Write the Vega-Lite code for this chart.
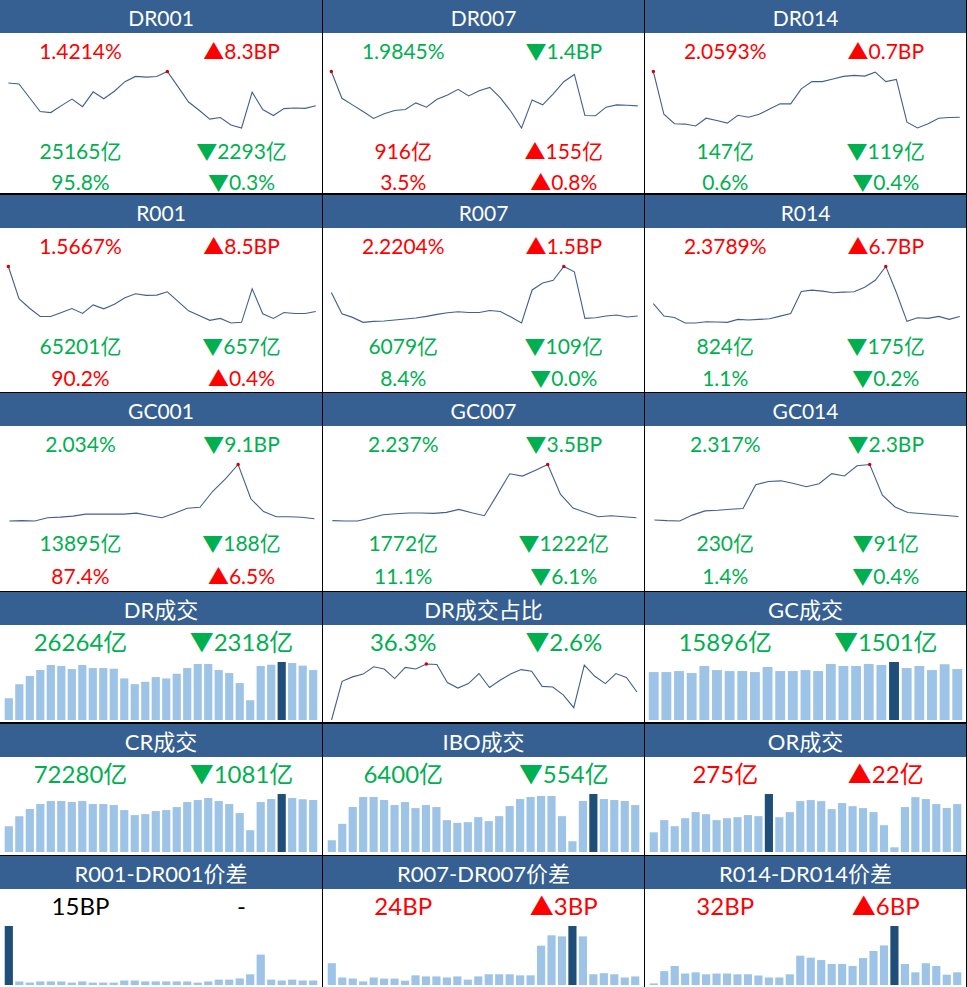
{
"$schema":"https://vega.github.io/schema/vega-lite/v6.json",
"padding":{"left":0,"top":0,"right":1,"bottom":1},
"background":"#000000",
"spacing":1,
"config":{"view":{"stroke":null,"fill":"#FFFFFF"},"text":{"font":"Lato, 'Noto Sans CJK SC', sans-serif","fontSize":21,"baseline":"middle","dy":2}},
"datasets":{
"labels":[
{"p":"DR001","r":0,"t":"DR001"},{"p":"DR001","r":1,"c":"L","t":"1.4214%","d":"up"},{"p":"DR001","r":1,"c":"R","t":"▲8.3BP","d":"up"},{"p":"DR001","r":2,"c":"L","t":"25165亿","d":"down"},{"p":"DR001","r":2,"c":"R","t":"▼2293亿","d":"down"},{"p":"DR001","r":3,"c":"L","t":"95.8%","d":"down"},{"p":"DR001","r":3,"c":"R","t":"▼0.3%","d":"down"},
{"p":"DR007","r":0,"t":"DR007"},{"p":"DR007","r":1,"c":"L","t":"1.9845%","d":"down"},{"p":"DR007","r":1,"c":"R","t":"▼1.4BP","d":"down"},{"p":"DR007","r":2,"c":"L","t":"916亿","d":"up"},{"p":"DR007","r":2,"c":"R","t":"▲155亿","d":"up"},{"p":"DR007","r":3,"c":"L","t":"3.5%","d":"up"},{"p":"DR007","r":3,"c":"R","t":"▲0.8%","d":"up"},
{"p":"DR014","r":0,"t":"DR014"},{"p":"DR014","r":1,"c":"L","t":"2.0593%","d":"up"},{"p":"DR014","r":1,"c":"R","t":"▲0.7BP","d":"up"},{"p":"DR014","r":2,"c":"L","t":"147亿","d":"down"},{"p":"DR014","r":2,"c":"R","t":"▼119亿","d":"down"},{"p":"DR014","r":3,"c":"L","t":"0.6%","d":"down"},{"p":"DR014","r":3,"c":"R","t":"▼0.4%","d":"down"},
{"p":"R001","r":0,"t":"R001"},{"p":"R001","r":1,"c":"L","t":"1.5667%","d":"up"},{"p":"R001","r":1,"c":"R","t":"▲8.5BP","d":"up"},{"p":"R001","r":2,"c":"L","t":"65201亿","d":"down"},{"p":"R001","r":2,"c":"R","t":"▼657亿","d":"down"},{"p":"R001","r":3,"c":"L","t":"90.2%","d":"up"},{"p":"R001","r":3,"c":"R","t":"▲0.4%","d":"up"},
{"p":"R007","r":0,"t":"R007"},{"p":"R007","r":1,"c":"L","t":"2.2204%","d":"up"},{"p":"R007","r":1,"c":"R","t":"▲1.5BP","d":"up"},{"p":"R007","r":2,"c":"L","t":"6079亿","d":"down"},{"p":"R007","r":2,"c":"R","t":"▼109亿","d":"down"},{"p":"R007","r":3,"c":"L","t":"8.4%","d":"down"},{"p":"R007","r":3,"c":"R","t":"▼0.0%","d":"down"},
{"p":"R014","r":0,"t":"R014"},{"p":"R014","r":1,"c":"L","t":"2.3789%","d":"up"},{"p":"R014","r":1,"c":"R","t":"▲6.7BP","d":"up"},{"p":"R014","r":2,"c":"L","t":"824亿","d":"down"},{"p":"R014","r":2,"c":"R","t":"▼175亿","d":"down"},{"p":"R014","r":3,"c":"L","t":"1.1%","d":"down"},{"p":"R014","r":3,"c":"R","t":"▼0.2%","d":"down"},
{"p":"GC001","r":0,"t":"GC001"},{"p":"GC001","r":1,"c":"L","t":"2.034%","d":"down"},{"p":"GC001","r":1,"c":"R","t":"▼9.1BP","d":"down"},{"p":"GC001","r":2,"c":"L","t":"13895亿","d":"down"},{"p":"GC001","r":2,"c":"R","t":"▼188亿","d":"down"},{"p":"GC001","r":3,"c":"L","t":"87.4%","d":"up"},{"p":"GC001","r":3,"c":"R","t":"▲6.5%","d":"up"},
{"p":"GC007","r":0,"t":"GC007"},{"p":"GC007","r":1,"c":"L","t":"2.237%","d":"down"},{"p":"GC007","r":1,"c":"R","t":"▼3.5BP","d":"down"},{"p":"GC007","r":2,"c":"L","t":"1772亿","d":"down"},{"p":"GC007","r":2,"c":"R","t":"▼1222亿","d":"down"},{"p":"GC007","r":3,"c":"L","t":"11.1%","d":"down"},{"p":"GC007","r":3,"c":"R","t":"▼6.1%","d":"down"},
{"p":"GC014","r":0,"t":"GC014"},{"p":"GC014","r":1,"c":"L","t":"2.317%","d":"down"},{"p":"GC014","r":1,"c":"R","t":"▼2.3BP","d":"down"},{"p":"GC014","r":2,"c":"L","t":"230亿","d":"down"},{"p":"GC014","r":2,"c":"R","t":"▼91亿","d":"down"},{"p":"GC014","r":3,"c":"L","t":"1.4%","d":"down"},{"p":"GC014","r":3,"c":"R","t":"▼0.4%","d":"down"},
{"p":"DR成交","r":0,"t":"DR成交"},{"p":"DR成交","r":1,"c":"L","t":"26264亿","d":"down"},{"p":"DR成交","r":1,"c":"R","t":"▼2318亿","d":"down"},
{"p":"DR成交占比","r":0,"t":"DR成交占比"},{"p":"DR成交占比","r":1,"c":"L","t":"36.3%","d":"down"},{"p":"DR成交占比","r":1,"c":"R","t":"▼2.6%","d":"down"},
{"p":"GC成交","r":0,"t":"GC成交"},{"p":"GC成交","r":1,"c":"L","t":"15896亿","d":"down"},{"p":"GC成交","r":1,"c":"R","t":"▼1501亿","d":"down"},
{"p":"CR成交","r":0,"t":"CR成交"},{"p":"CR成交","r":1,"c":"L","t":"72280亿","d":"down"},{"p":"CR成交","r":1,"c":"R","t":"▼1081亿","d":"down"},
{"p":"IBO成交","r":0,"t":"IBO成交"},{"p":"IBO成交","r":1,"c":"L","t":"6400亿","d":"down"},{"p":"IBO成交","r":1,"c":"R","t":"▼554亿","d":"down"},
{"p":"OR成交","r":0,"t":"OR成交"},{"p":"OR成交","r":1,"c":"L","t":"275亿","d":"up"},{"p":"OR成交","r":1,"c":"R","t":"▲22亿","d":"up"},
{"p":"R001-DR001价差","r":0,"t":"R001-DR001价差"},{"p":"R001-DR001价差","r":1,"c":"L","t":"15BP","d":"flat"},{"p":"R001-DR001价差","r":1,"c":"R","t":"-","d":"flat"},
{"p":"R007-DR007价差","r":0,"t":"R007-DR007价差"},{"p":"R007-DR007价差","r":1,"c":"L","t":"24BP","d":"up"},{"p":"R007-DR007价差","r":1,"c":"R","t":"▲3BP","d":"up"},
{"p":"R014-DR014价差","r":0,"t":"R014-DR014价差"},{"p":"R014-DR014价差","r":1,"c":"L","t":"32BP","d":"up"},{"p":"R014-DR014价差","r":1,"c":"R","t":"▲6BP","d":"up"}
],
"lines":[
{"s":"DR001","i":0,"v":2.1114},{"s":"DR001","i":1,"v":2.0814},{"s":"DR001","i":2,"v":1.6614},{"s":"DR001","i":3,"v":1.2414},{"s":"DR001","i":4,"v":1.2114},{"s":"DR001","i":5,"v":1.4214},{"s":"DR001","i":6,"v":1.6214},{"s":"DR001","i":7,"v":1.3914},{"s":"DR001","i":8,"v":1.8414},{"s":"DR001","i":9,"v":1.6314},{"s":"DR001","i":10,"v":1.8614},{"s":"DR001","i":11,"v":2.1514},{"s":"DR001","i":12,"v":2.3114},{"s":"DR001","i":13,"v":2.2914},{"s":"DR001","i":14,"v":2.3114},{"s":"DR001","i":15,"v":2.4614},{"s":"DR001","i":16,"v":2.0014},{"s":"DR001","i":17,"v":1.5314},{"s":"DR001","i":18,"v":1.2814},{"s":"DR001","i":19,"v":1.0114},{"s":"DR001","i":20,"v":1.0614},{"s":"DR001","i":21,"v":0.8314},{"s":"DR001","i":22,"v":0.7414},{"s":"DR001","i":23,"v":1.8314},{"s":"DR001","i":24,"v":1.3014},{"s":"DR001","i":25,"v":1.1214},{"s":"DR001","i":26,"v":1.3314},{"s":"DR001","i":27,"v":1.3514},{"s":"DR001","i":28,"v":1.3384},{"s":"DR001","i":29,"v":1.4214},
{"s":"DR007","i":0,"v":2.7125},{"s":"DR007","i":1,"v":2.1455},{"s":"DR007","i":2,"v":2.0055},{"s":"DR007","i":3,"v":1.8655},{"s":"DR007","i":4,"v":1.7185},{"s":"DR007","i":5,"v":1.8165},{"s":"DR007","i":6,"v":1.8865},{"s":"DR007","i":7,"v":1.9075},{"s":"DR007","i":8,"v":2.0475},{"s":"DR007","i":9,"v":1.9565},{"s":"DR007","i":10,"v":2.1245},{"s":"DR007","i":11,"v":2.2155},{"s":"DR007","i":12,"v":2.3345},{"s":"DR007","i":13,"v":2.1945},{"s":"DR007","i":14,"v":2.3065},{"s":"DR007","i":15,"v":2.3765},{"s":"DR007","i":16,"v":2.1525},{"s":"DR007","i":17,"v":1.8655},{"s":"DR007","i":18,"v":1.5155},{"s":"DR007","i":19,"v":2.1105},{"s":"DR007","i":20,"v":2.0055},{"s":"DR007","i":21,"v":2.2365},{"s":"DR007","i":22,"v":2.4955},{"s":"DR007","i":23,"v":2.6495},{"s":"DR007","i":24,"v":1.7815},{"s":"DR007","i":25,"v":1.7745},{"s":"DR007","i":26,"v":1.9565},{"s":"DR007","i":27,"v":2.0055},{"s":"DR007","i":28,"v":1.9985},{"s":"DR007","i":29,"v":1.9845},
{"s":"DR014","i":0,"v":3.4593},{"s":"DR014","i":1,"v":2.1493},{"s":"DR014","i":2,"v":1.8593},{"s":"DR014","i":3,"v":1.8493},{"s":"DR014","i":4,"v":1.7893},{"s":"DR014","i":5,"v":2.0293},{"s":"DR014","i":6,"v":1.9593},{"s":"DR014","i":7,"v":1.8793},{"s":"DR014","i":8,"v":2.1193},{"s":"DR014","i":9,"v":2.0593},{"s":"DR014","i":10,"v":2.1493},{"s":"DR014","i":11,"v":2.3093},{"s":"DR014","i":12,"v":2.4693},{"s":"DR014","i":13,"v":2.4693},{"s":"DR014","i":14,"v":2.9293},{"s":"DR014","i":15,"v":3.1493},{"s":"DR014","i":16,"v":3.1493},{"s":"DR014","i":17,"v":3.2293},{"s":"DR014","i":18,"v":3.3093},{"s":"DR014","i":19,"v":3.3393},{"s":"DR014","i":20,"v":3.3193},{"s":"DR014","i":21,"v":3.4393},{"s":"DR014","i":22,"v":3.1493},{"s":"DR014","i":23,"v":3.2193},{"s":"DR014","i":24,"v":1.9093},{"s":"DR014","i":25,"v":1.7293},{"s":"DR014","i":26,"v":1.8593},{"s":"DR014","i":27,"v":2.0293},{"s":"DR014","i":28,"v":2.0523},{"s":"DR014","i":29,"v":2.0593},
{"s":"R001","i":0,"v":3.4847},{"s":"R001","i":1,"v":2.1127},{"s":"R001","i":2,"v":1.7067},{"s":"R001","i":3,"v":1.3567},{"s":"R001","i":4,"v":1.3567},{"s":"R001","i":5,"v":1.5247},{"s":"R001","i":6,"v":1.6927},{"s":"R001","i":7,"v":1.4827},{"s":"R001","i":8,"v":1.8467},{"s":"R001","i":9,"v":1.6787},{"s":"R001","i":10,"v":1.8747},{"s":"R001","i":11,"v":2.1547},{"s":"R001","i":12,"v":2.3227},{"s":"R001","i":13,"v":2.2527},{"s":"R001","i":14,"v":2.2667},{"s":"R001","i":15,"v":2.4067},{"s":"R001","i":16,"v":2.0007},{"s":"R001","i":17,"v":1.5947},{"s":"R001","i":18,"v":1.3987},{"s":"R001","i":19,"v":1.1887},{"s":"R001","i":20,"v":1.2727},{"s":"R001","i":21,"v":1.0767},{"s":"R001","i":22,"v":1.1047},{"s":"R001","i":23,"v":2.5327},{"s":"R001","i":24,"v":1.4687},{"s":"R001","i":25,"v":1.2727},{"s":"R001","i":26,"v":1.5247},{"s":"R001","i":27,"v":1.4827},{"s":"R001","i":28,"v":1.4817},{"s":"R001","i":29,"v":1.5667},
{"s":"R007","i":0,"v":2.5754},{"s":"R007","i":1,"v":2.2554},{"s":"R007","i":2,"v":2.2004},{"s":"R007","i":3,"v":2.1254},{"s":"R007","i":4,"v":2.1404},{"s":"R007","i":5,"v":2.1454},{"s":"R007","i":6,"v":2.1604},{"s":"R007","i":7,"v":2.1754},{"s":"R007","i":8,"v":2.1904},{"s":"R007","i":9,"v":2.2154},{"s":"R007","i":10,"v":2.2454},{"s":"R007","i":11,"v":2.2704},{"s":"R007","i":12,"v":2.2854},{"s":"R007","i":13,"v":2.2754},{"s":"R007","i":14,"v":2.2754},{"s":"R007","i":15,"v":2.3054},{"s":"R007","i":16,"v":2.2904},{"s":"R007","i":17,"v":2.2054},{"s":"R007","i":18,"v":2.1154},{"s":"R007","i":19,"v":2.6154},{"s":"R007","i":20,"v":2.7204},{"s":"R007","i":21,"v":2.7604},{"s":"R007","i":22,"v":2.9704},{"s":"R007","i":23,"v":2.8904},{"s":"R007","i":24,"v":2.1854},{"s":"R007","i":25,"v":2.1954},{"s":"R007","i":26,"v":2.2204},{"s":"R007","i":27,"v":2.2354},{"s":"R007","i":28,"v":2.2054},{"s":"R007","i":29,"v":2.2204},
{"s":"R014","i":0,"v":2.6714},{"s":"R014","i":1,"v":2.3864},{"s":"R014","i":2,"v":2.3564},{"s":"R014","i":3,"v":2.2289},{"s":"R014","i":4,"v":2.2289},{"s":"R014","i":5,"v":2.2589},{"s":"R014","i":6,"v":2.2514},{"s":"R014","i":7,"v":2.2439},{"s":"R014","i":8,"v":2.3114},{"s":"R014","i":9,"v":2.2964},{"s":"R014","i":10,"v":2.3114},{"s":"R014","i":11,"v":2.3264},{"s":"R014","i":12,"v":2.3864},{"s":"R014","i":13,"v":2.4464},{"s":"R014","i":14,"v":2.9489},{"s":"R014","i":15,"v":2.9789},{"s":"R014","i":16,"v":2.9564},{"s":"R014","i":17,"v":2.9189},{"s":"R014","i":18,"v":2.9339},{"s":"R014","i":19,"v":2.9414},{"s":"R014","i":20,"v":3.0464},{"s":"R014","i":21,"v":3.2039},{"s":"R014","i":22,"v":3.5189},{"s":"R014","i":23,"v":2.9264},{"s":"R014","i":24,"v":2.2664},{"s":"R014","i":25,"v":2.3489},{"s":"R014","i":26,"v":2.3339},{"s":"R014","i":27,"v":2.3789},{"s":"R014","i":28,"v":2.3119},{"s":"R014","i":29,"v":2.3789},
{"s":"GC001","i":0,"v":1.894},{"s":"GC001","i":1,"v":1.914},{"s":"GC001","i":2,"v":1.894},{"s":"GC001","i":3,"v":2.094},{"s":"GC001","i":4,"v":2.134},{"s":"GC001","i":5,"v":2.194},{"s":"GC001","i":6,"v":2.314},{"s":"GC001","i":7,"v":2.314},{"s":"GC001","i":8,"v":2.314},{"s":"GC001","i":9,"v":2.314},{"s":"GC001","i":10,"v":2.374},{"s":"GC001","i":11,"v":2.234},{"s":"GC001","i":12,"v":2.094},{"s":"GC001","i":13,"v":2.374},{"s":"GC001","i":14,"v":2.674},{"s":"GC001","i":15,"v":2.734},{"s":"GC001","i":16,"v":3.714},{"s":"GC001","i":17,"v":4.474},{"s":"GC001","i":18,"v":5.354},{"s":"GC001","i":19,"v":3.254},{"s":"GC001","i":20,"v":2.474},{"s":"GC001","i":21,"v":2.154},{"s":"GC001","i":22,"v":2.154},{"s":"GC001","i":23,"v":2.125},{"s":"GC001","i":24,"v":2.034},
{"s":"GC007","i":0,"v":2.129},{"s":"GC007","i":1,"v":2.117},{"s":"GC007","i":2,"v":2.117},{"s":"GC007","i":3,"v":2.225},{"s":"GC007","i":4,"v":2.345},{"s":"GC007","i":5,"v":2.381},{"s":"GC007","i":6,"v":2.405},{"s":"GC007","i":7,"v":2.405},{"s":"GC007","i":8,"v":2.393},{"s":"GC007","i":9,"v":2.429},{"s":"GC007","i":10,"v":2.537},{"s":"GC007","i":11,"v":2.417},{"s":"GC007","i":12,"v":2.309},{"s":"GC007","i":13,"v":3.065},{"s":"GC007","i":14,"v":3.833},{"s":"GC007","i":15,"v":3.749},{"s":"GC007","i":16,"v":3.953},{"s":"GC007","i":17,"v":4.169},{"s":"GC007","i":18,"v":3.089},{"s":"GC007","i":19,"v":2.585},{"s":"GC007","i":20,"v":2.429},{"s":"GC007","i":21,"v":2.273},{"s":"GC007","i":22,"v":2.309},{"s":"GC007","i":23,"v":2.272},{"s":"GC007","i":24,"v":2.237},
{"s":"GC014","i":0,"v":2.229},{"s":"GC014","i":1,"v":2.213},{"s":"GC014","i":2,"v":2.205},{"s":"GC014","i":3,"v":2.349},{"s":"GC014","i":4,"v":2.453},{"s":"GC014","i":5,"v":2.469},{"s":"GC014","i":6,"v":2.493},{"s":"GC014","i":7,"v":2.509},{"s":"GC014","i":8,"v":3.093},{"s":"GC014","i":9,"v":3.173},{"s":"GC014","i":10,"v":3.189},{"s":"GC014","i":11,"v":3.125},{"s":"GC014","i":12,"v":3.045},{"s":"GC014","i":13,"v":3.117},{"s":"GC014","i":14,"v":3.365},{"s":"GC014","i":15,"v":3.309},{"s":"GC014","i":16,"v":3.557},{"s":"GC014","i":17,"v":3.589},{"s":"GC014","i":18,"v":2.837},{"s":"GC014","i":19,"v":2.549},{"s":"GC014","i":20,"v":2.413},{"s":"GC014","i":21,"v":2.389},{"s":"GC014","i":22,"v":2.365},{"s":"GC014","i":23,"v":2.340},{"s":"GC014","i":24,"v":2.317},
{"s":"DR成交占比","i":0,"v":31.3},{"s":"DR成交占比","i":1,"v":38.2},{"s":"DR成交占比","i":2,"v":39.0},{"s":"DR成交占比","i":3,"v":39.5},{"s":"DR成交占比","i":4,"v":40.8},{"s":"DR成交占比","i":5,"v":40.4},{"s":"DR成交占比","i":6,"v":38.7},{"s":"DR成交占比","i":7,"v":40.7},{"s":"DR成交占比","i":8,"v":40.4},{"s":"DR成交占比","i":9,"v":41.3},{"s":"DR成交占比","i":10,"v":41.2},{"s":"DR成交占比","i":11,"v":38.0},{"s":"DR成交占比","i":12,"v":37.0},{"s":"DR成交占比","i":13,"v":37.8},{"s":"DR成交占比","i":14,"v":39.6},{"s":"DR成交占比","i":15,"v":37.1},{"s":"DR成交占比","i":16,"v":38.4},{"s":"DR成交占比","i":17,"v":39.5},{"s":"DR成交占比","i":18,"v":40.3},{"s":"DR成交占比","i":19,"v":40.0},{"s":"DR成交占比","i":20,"v":37.3},{"s":"DR成交占比","i":21,"v":37.2},{"s":"DR成交占比","i":22,"v":35.8},{"s":"DR成交占比","i":23,"v":33.5},{"s":"DR成交占比","i":24,"v":41.1},{"s":"DR成交占比","i":25,"v":39.1},{"s":"DR成交占比","i":26,"v":37.8},{"s":"DR成交占比","i":27,"v":39.6},{"s":"DR成交占比","i":28,"v":38.9},{"s":"DR成交占比","i":29,"v":36.3}
],
"bars":[
{"s":"DR成交","i":0,"v":11460},{"s":"DR成交","i":1,"v":18864},{"s":"DR成交","i":2,"v":23095},{"s":"DR成交","i":3,"v":26269},{"s":"DR成交","i":4,"v":28913},{"s":"DR成交","i":5,"v":28384},{"s":"DR成交","i":6,"v":26798},{"s":"DR成交","i":7,"v":28913},{"s":"DR成交","i":8,"v":27327},{"s":"DR成交","i":9,"v":27327},{"s":"DR成交","i":10,"v":26974},{"s":"DR成交","i":11,"v":21861},{"s":"DR成交","i":12,"v":18864},{"s":"DR成交","i":13,"v":20098},{"s":"DR成交","i":14,"v":22566},{"s":"DR成交","i":15,"v":21861},{"s":"DR成交","i":16,"v":24329},{"s":"DR成交","i":17,"v":27327},{"s":"DR成交","i":18,"v":29442},{"s":"DR成交","i":19,"v":29442},{"s":"DR成交","i":20,"v":26269},{"s":"DR成交","i":21,"v":24682},{"s":"DR成交","i":22,"v":19393},{"s":"DR成交","i":23,"v":10402},{"s":"DR成交","i":24,"v":28384},{"s":"DR成交","i":25,"v":29090},{"s":"DR成交","i":26,"v":30500},{"s":"DR成交","i":27,"v":29971},{"s":"DR成交","i":28,"v":28582},{"s":"DR成交","i":29,"v":26264},
{"s":"GC成交","i":0,"v":14958},{"s":"GC成交","i":1,"v":14958},{"s":"GC成交","i":2,"v":15272},{"s":"GC成交","i":3,"v":14644},{"s":"GC成交","i":4,"v":16841},{"s":"GC成交","i":5,"v":15585},{"s":"GC成交","i":6,"v":15272},{"s":"GC成交","i":7,"v":15272},{"s":"GC成交","i":8,"v":14958},{"s":"GC成交","i":9,"v":16527},{"s":"GC成交","i":10,"v":15272},{"s":"GC成交","i":11,"v":15272},{"s":"GC成交","i":12,"v":15585},{"s":"GC成交","i":13,"v":15272},{"s":"GC成交","i":14,"v":17468},{"s":"GC成交","i":15,"v":16841},{"s":"GC成交","i":16,"v":16841},{"s":"GC成交","i":17,"v":17468},{"s":"GC成交","i":18,"v":17154},{"s":"GC成交","i":19,"v":18096},{"s":"GC成交","i":20,"v":16213},{"s":"GC成交","i":21,"v":16841},{"s":"GC成交","i":22,"v":15585},{"s":"GC成交","i":23,"v":17397},{"s":"GC成交","i":24,"v":15896},
{"s":"CR成交","i":0,"v":35905},{"s":"CR成交","i":1,"v":49894},{"s":"CR成交","i":2,"v":59686},{"s":"CR成交","i":3,"v":66681},{"s":"CR成交","i":4,"v":70878},{"s":"CR成交","i":5,"v":70878},{"s":"CR成交","i":6,"v":69479},{"s":"CR成交","i":7,"v":70878},{"s":"CR成交","i":8,"v":66681},{"s":"CR成交","i":9,"v":66681},{"s":"CR成交","i":10,"v":65282},{"s":"CR成交","i":11,"v":58288},{"s":"CR成交","i":12,"v":51293},{"s":"CR成交","i":13,"v":52692},{"s":"CR成交","i":14,"v":56889},{"s":"CR成交","i":15,"v":58288},{"s":"CR成交","i":16,"v":62484},{"s":"CR成交","i":17,"v":69479},{"s":"CR成交","i":18,"v":72277},{"s":"CR成交","i":19,"v":75074},{"s":"CR成交","i":20,"v":70878},{"s":"CR成交","i":21,"v":66681},{"s":"CR成交","i":22,"v":54091},{"s":"CR成交","i":23,"v":30310},{"s":"CR成交","i":24,"v":69479},{"s":"CR成交","i":25,"v":73675},{"s":"CR成交","i":26,"v":80670},{"s":"CR成交","i":27,"v":75074},{"s":"CR成交","i":28,"v":73361},{"s":"CR成交","i":29,"v":72280},
{"s":"IBO成交","i":0,"v":1600},{"s":"IBO成交","i":1,"v":3840},{"s":"IBO成交","i":2,"v":6126},{"s":"IBO成交","i":3,"v":7497},{"s":"IBO成交","i":4,"v":7497},{"s":"IBO成交","i":5,"v":7086},{"s":"IBO成交","i":6,"v":6400},{"s":"IBO成交","i":7,"v":6811},{"s":"IBO成交","i":8,"v":5989},{"s":"IBO成交","i":9,"v":6400},{"s":"IBO成交","i":10,"v":6126},{"s":"IBO成交","i":11,"v":4343},{"s":"IBO成交","i":12,"v":3977},{"s":"IBO成交","i":13,"v":4069},{"s":"IBO成交","i":14,"v":4754},{"s":"IBO成交","i":15,"v":4206},{"s":"IBO成交","i":16,"v":4891},{"s":"IBO成交","i":17,"v":6263},{"s":"IBO成交","i":18,"v":7223},{"s":"IBO成交","i":19,"v":7497},{"s":"IBO成交","i":20,"v":7634},{"s":"IBO成交","i":21,"v":7634},{"s":"IBO成交","i":22,"v":4891},{"s":"IBO成交","i":23,"v":1463},{"s":"IBO成交","i":24,"v":6949},{"s":"IBO成交","i":25,"v":7909},{"s":"IBO成交","i":26,"v":7223},{"s":"IBO成交","i":27,"v":7086},{"s":"IBO成交","i":28,"v":6954},{"s":"IBO成交","i":29,"v":6400},
{"s":"OR成交","i":0,"v":113},{"s":"OR成交","i":1,"v":183},{"s":"OR成交","i":2,"v":148},{"s":"OR成交","i":3,"v":194},{"s":"OR成交","i":4,"v":229},{"s":"OR成交","i":5,"v":217},{"s":"OR成交","i":6,"v":183},{"s":"OR成交","i":7,"v":194},{"s":"OR成交","i":8,"v":200},{"s":"OR成交","i":9,"v":212},{"s":"OR成交","i":10,"v":206},{"s":"OR成交","i":11,"v":333},{"s":"OR成交","i":12,"v":200},{"s":"OR成交","i":13,"v":229},{"s":"OR成交","i":14,"v":292},{"s":"OR成交","i":15,"v":298},{"s":"OR成交","i":16,"v":292},{"s":"OR成交","i":17,"v":246},{"s":"OR成交","i":18,"v":281},{"s":"OR成交","i":19,"v":263},{"s":"OR成交","i":20,"v":252},{"s":"OR成交","i":21,"v":229},{"s":"OR成交","i":22,"v":154},{"s":"OR成交","i":23,"v":27},{"s":"OR成交","i":24,"v":258},{"s":"OR成交","i":25,"v":315},{"s":"OR成交","i":26,"v":304},{"s":"OR成交","i":27,"v":275},{"s":"OR成交","i":28,"v":253},{"s":"OR成交","i":29,"v":275},
{"s":"R001-DR001价差","i":0,"v":198},{"s":"R001-DR001价差","i":1,"v":12},{"s":"R001-DR001价差","i":2,"v":8},{"s":"R001-DR001价差","i":3,"v":12},{"s":"R001-DR001价差","i":4,"v":12},{"s":"R001-DR001价差","i":5,"v":12},{"s":"R001-DR001价差","i":6,"v":8},{"s":"R001-DR001价差","i":7,"v":12},{"s":"R001-DR001价差","i":8,"v":8},{"s":"R001-DR001价差","i":9,"v":8},{"s":"R001-DR001价差","i":10,"v":8},{"s":"R001-DR001价差","i":11,"v":15},{"s":"R001-DR001价差","i":12,"v":15},{"s":"R001-DR001价差","i":13,"v":12},{"s":"R001-DR001价差","i":14,"v":12},{"s":"R001-DR001价差","i":15,"v":12},{"s":"R001-DR001价差","i":16,"v":12},{"s":"R001-DR001价差","i":17,"v":12},{"s":"R001-DR001价差","i":18,"v":8},{"s":"R001-DR001价差","i":19,"v":12},{"s":"R001-DR001价差","i":20,"v":18},{"s":"R001-DR001价差","i":21,"v":18},{"s":"R001-DR001价差","i":22,"v":22},{"s":"R001-DR001价差","i":23,"v":36},{"s":"R001-DR001价差","i":24,"v":102},{"s":"R001-DR001价差","i":25,"v":18},{"s":"R001-DR001价差","i":26,"v":15},{"s":"R001-DR001价差","i":27,"v":18},{"s":"R001-DR001价差","i":28,"v":15},{"s":"R001-DR001价差","i":29,"v":15},
{"s":"R007-DR007价差","i":0,"v":61},{"s":"R007-DR007价差","i":1,"v":21},{"s":"R007-DR007价差","i":2,"v":18},{"s":"R007-DR007价差","i":3,"v":10},{"s":"R007-DR007价差","i":4,"v":21},{"s":"R007-DR007价差","i":5,"v":18},{"s":"R007-DR007价差","i":6,"v":18},{"s":"R007-DR007价差","i":7,"v":12},{"s":"R007-DR007价差","i":8,"v":27},{"s":"R007-DR007价差","i":9,"v":24},{"s":"R007-DR007价差","i":10,"v":24},{"s":"R007-DR007价差","i":11,"v":21},{"s":"R007-DR007价差","i":12,"v":24},{"s":"R007-DR007价差","i":13,"v":15},{"s":"R007-DR007价差","i":14,"v":24},{"s":"R007-DR007价差","i":15,"v":30},{"s":"R007-DR007价差","i":16,"v":30},{"s":"R007-DR007价差","i":17,"v":30},{"s":"R007-DR007价差","i":18,"v":27},{"s":"R007-DR007价差","i":19,"v":27},{"s":"R007-DR007价差","i":20,"v":110},{"s":"R007-DR007价差","i":21,"v":139},{"s":"R007-DR007价差","i":22,"v":136},{"s":"R007-DR007价差","i":23,"v":165},{"s":"R007-DR007价差","i":24,"v":136},{"s":"R007-DR007价差","i":25,"v":30},{"s":"R007-DR007价差","i":26,"v":33},{"s":"R007-DR007价差","i":27,"v":30},{"s":"R007-DR007价差","i":28,"v":21},{"s":"R007-DR007价差","i":29,"v":24},
{"s":"R014-DR014价差","i":0,"v":4},{"s":"R014-DR014价差","i":1,"v":35},{"s":"R014-DR014价差","i":2,"v":48},{"s":"R014-DR014价差","i":3,"v":29},{"s":"R014-DR014价差","i":4,"v":32},{"s":"R014-DR014价差","i":5,"v":27},{"s":"R014-DR014价差","i":6,"v":29},{"s":"R014-DR014价差","i":7,"v":29},{"s":"R014-DR014价差","i":8,"v":27},{"s":"R014-DR014价差","i":9,"v":27},{"s":"R014-DR014价差","i":10,"v":24},{"s":"R014-DR014价差","i":11,"v":19},{"s":"R014-DR014价差","i":12,"v":19},{"s":"R014-DR014价差","i":13,"v":27},{"s":"R014-DR014价差","i":14,"v":74},{"s":"R014-DR014价差","i":15,"v":69},{"s":"R014-DR014价差","i":16,"v":63},{"s":"R014-DR014价差","i":17,"v":53},{"s":"R014-DR014价差","i":18,"v":53},{"s":"R014-DR014价差","i":19,"v":48},{"s":"R014-DR014价差","i":20,"v":68},{"s":"R014-DR014价差","i":21,"v":86},{"s":"R014-DR014价差","i":22,"v":100},{"s":"R014-DR014价差","i":23,"v":149},{"s":"R014-DR014价差","i":24,"v":53},{"s":"R014-DR014价差","i":25,"v":32},{"s":"R014-DR014价差","i":26,"v":55},{"s":"R014-DR014价差","i":27,"v":48},{"s":"R014-DR014价差","i":28,"v":26},{"s":"R014-DR014价差","i":29,"v":32}
]
},
"vconcat":[
{"hconcat":[
{"vconcat":[
{"width":322,"height":33,"view":{"fill":"#366092","stroke":null},"data":{"name":"labels"},"transform":[{"filter":"datum.p=='DR001' && datum.r==0"}],"mark":{"type":"text","color":"#FFFFFF","fontSize":21,"dy":3.5},"encoding":{"text":{"field":"t"}}},
{"width":322,"height":36,"data":{"name":"labels"},"transform":[{"filter":"datum.p=='DR001' && datum.r==1"}],"mark":{"type":"text"},"encoding":{"x":{"field":"c","type":"nominal","scale":{"type":"point","padding":0.5,"domain":["L","R"]},"axis":null},"text":{"field":"t"},"color":{"field":"d","type":"nominal","scale":{"domain":["up","down","flat"],"range":["#FF0000","#00B050","#000000"]},"legend":null}}},
{"width":322,"height":60,"data":{"name":"lines"},"transform":[{"filter":"datum.s=='DR001'"}],"layer":[
{"mark":{"type":"line","color":"#41608F","strokeWidth":1.1},"encoding":{"x":{"field":"i","type":"quantitative","scale":{"domain":[-0.79,29.59],"nice":false,"zero":false},"axis":null},"y":{"field":"v","type":"quantitative","scale":{"zero":false,"nice":false,"range":[59,2.5]},"axis":null}}},
{"transform":[{"joinaggregate":[{"op":"max","field":"v","as":"mx"}]},{"filter":"datum.v==datum.mx"}],"mark":{"type":"circle","color":"#D00000","size":12,"opacity":1},"encoding":{"x":{"field":"i","type":"quantitative","scale":{"domain":[-0.79,29.59],"nice":false,"zero":false},"axis":null},"y":{"field":"v","type":"quantitative","scale":{"zero":false,"nice":false,"range":[59,2.5]},"axis":null}}}]},
{"width":322,"height":64,"data":{"name":"labels"},"transform":[{"filter":"datum.p=='DR001' && datum.r>=2"}],"mark":{"type":"text"},"encoding":{"x":{"field":"c","type":"nominal","scale":{"type":"point","padding":0.5,"domain":["L","R"]},"axis":null},"y":{"field":"r","type":"ordinal","scale":{"type":"point","padding":0.532,"align":0.66},"axis":null},"text":{"field":"t"},"color":{"field":"d","type":"nominal","scale":{"domain":["up","down","flat"],"range":["#FF0000","#00B050","#000000"]},"legend":null}}}
],"spacing":0,"bounds":"flush"},
{"vconcat":[
{"width":321,"height":33,"view":{"fill":"#366092","stroke":null},"data":{"name":"labels"},"transform":[{"filter":"datum.p=='DR007' && datum.r==0"}],"mark":{"type":"text","color":"#FFFFFF","fontSize":21,"dy":3.5},"encoding":{"text":{"field":"t"}}},
{"width":321,"height":36,"data":{"name":"labels"},"transform":[{"filter":"datum.p=='DR007' && datum.r==1"}],"mark":{"type":"text"},"encoding":{"x":{"field":"c","type":"nominal","scale":{"type":"point","padding":0.5,"domain":["L","R"]},"axis":null},"text":{"field":"t"},"color":{"field":"d","type":"nominal","scale":{"domain":["up","down","flat"],"range":["#FF0000","#00B050","#000000"]},"legend":null}}},
{"width":321,"height":60,"data":{"name":"lines"},"transform":[{"filter":"datum.s=='DR007'"}],"layer":[
{"mark":{"type":"line","color":"#41608F","strokeWidth":1.1},"encoding":{"x":{"field":"i","type":"quantitative","scale":{"domain":[-0.79,29.59],"nice":false,"zero":false},"axis":null},"y":{"field":"v","type":"quantitative","scale":{"zero":false,"nice":false,"range":[59,2.5]},"axis":null}}},
{"transform":[{"joinaggregate":[{"op":"max","field":"v","as":"mx"}]},{"filter":"datum.v==datum.mx"}],"mark":{"type":"circle","color":"#D00000","size":12,"opacity":1},"encoding":{"x":{"field":"i","type":"quantitative","scale":{"domain":[-0.79,29.59],"nice":false,"zero":false},"axis":null},"y":{"field":"v","type":"quantitative","scale":{"zero":false,"nice":false,"range":[59,2.5]},"axis":null}}}]},
{"width":321,"height":64,"data":{"name":"labels"},"transform":[{"filter":"datum.p=='DR007' && datum.r>=2"}],"mark":{"type":"text"},"encoding":{"x":{"field":"c","type":"nominal","scale":{"type":"point","padding":0.5,"domain":["L","R"]},"axis":null},"y":{"field":"r","type":"ordinal","scale":{"type":"point","padding":0.532,"align":0.66},"axis":null},"text":{"field":"t"},"color":{"field":"d","type":"nominal","scale":{"domain":["up","down","flat"],"range":["#FF0000","#00B050","#000000"]},"legend":null}}}
],"spacing":0,"bounds":"flush"},
{"vconcat":[
{"width":321,"height":33,"view":{"fill":"#366092","stroke":null},"data":{"name":"labels"},"transform":[{"filter":"datum.p=='DR014' && datum.r==0"}],"mark":{"type":"text","color":"#FFFFFF","fontSize":21,"dy":3.5},"encoding":{"text":{"field":"t"}}},
{"width":321,"height":36,"data":{"name":"labels"},"transform":[{"filter":"datum.p=='DR014' && datum.r==1"}],"mark":{"type":"text"},"encoding":{"x":{"field":"c","type":"nominal","scale":{"type":"point","padding":0.5,"domain":["L","R"]},"axis":null},"text":{"field":"t"},"color":{"field":"d","type":"nominal","scale":{"domain":["up","down","flat"],"range":["#FF0000","#00B050","#000000"]},"legend":null}}},
{"width":321,"height":60,"data":{"name":"lines"},"transform":[{"filter":"datum.s=='DR014'"}],"layer":[
{"mark":{"type":"line","color":"#41608F","strokeWidth":1.1},"encoding":{"x":{"field":"i","type":"quantitative","scale":{"domain":[-0.79,29.59],"nice":false,"zero":false},"axis":null},"y":{"field":"v","type":"quantitative","scale":{"zero":false,"nice":false,"range":[59,2.5]},"axis":null}}},
{"transform":[{"joinaggregate":[{"op":"max","field":"v","as":"mx"}]},{"filter":"datum.v==datum.mx"}],"mark":{"type":"circle","color":"#D00000","size":12,"opacity":1},"encoding":{"x":{"field":"i","type":"quantitative","scale":{"domain":[-0.79,29.59],"nice":false,"zero":false},"axis":null},"y":{"field":"v","type":"quantitative","scale":{"zero":false,"nice":false,"range":[59,2.5]},"axis":null}}}]},
{"width":321,"height":64,"data":{"name":"labels"},"transform":[{"filter":"datum.p=='DR014' && datum.r>=2"}],"mark":{"type":"text"},"encoding":{"x":{"field":"c","type":"nominal","scale":{"type":"point","padding":0.5,"domain":["L","R"]},"axis":null},"y":{"field":"r","type":"ordinal","scale":{"type":"point","padding":0.532,"align":0.66},"axis":null},"text":{"field":"t"},"color":{"field":"d","type":"nominal","scale":{"domain":["up","down","flat"],"range":["#FF0000","#00B050","#000000"]},"legend":null}}}
],"spacing":0,"bounds":"flush"}
],"spacing":1},
{"hconcat":[
{"vconcat":[
{"width":322,"height":33,"view":{"fill":"#366092","stroke":null},"data":{"name":"labels"},"transform":[{"filter":"datum.p=='R001' && datum.r==0"}],"mark":{"type":"text","color":"#FFFFFF","fontSize":21,"dy":3.5},"encoding":{"text":{"field":"t"}}},
{"width":322,"height":36,"data":{"name":"labels"},"transform":[{"filter":"datum.p=='R001' && datum.r==1"}],"mark":{"type":"text"},"encoding":{"x":{"field":"c","type":"nominal","scale":{"type":"point","padding":0.5,"domain":["L","R"]},"axis":null},"text":{"field":"t"},"color":{"field":"d","type":"nominal","scale":{"domain":["up","down","flat"],"range":["#FF0000","#00B050","#000000"]},"legend":null}}},
{"width":322,"height":60,"data":{"name":"lines"},"transform":[{"filter":"datum.s=='R001'"}],"layer":[
{"mark":{"type":"line","color":"#41608F","strokeWidth":1.1},"encoding":{"x":{"field":"i","type":"quantitative","scale":{"domain":[-0.79,29.59],"nice":false,"zero":false},"axis":null},"y":{"field":"v","type":"quantitative","scale":{"zero":false,"nice":false,"range":[59,2.5]},"axis":null}}},
{"transform":[{"joinaggregate":[{"op":"max","field":"v","as":"mx"}]},{"filter":"datum.v==datum.mx"}],"mark":{"type":"circle","color":"#D00000","size":12,"opacity":1},"encoding":{"x":{"field":"i","type":"quantitative","scale":{"domain":[-0.79,29.59],"nice":false,"zero":false},"axis":null},"y":{"field":"v","type":"quantitative","scale":{"zero":false,"nice":false,"range":[59,2.5]},"axis":null}}}]},
{"width":322,"height":68,"data":{"name":"labels"},"transform":[{"filter":"datum.p=='R001' && datum.r>=2"}],"mark":{"type":"text"},"encoding":{"x":{"field":"c","type":"nominal","scale":{"type":"point","padding":0.5,"domain":["L","R"]},"axis":null},"y":{"field":"r","type":"ordinal","scale":{"type":"point","padding":0.5625,"align":0.61},"axis":null},"text":{"field":"t"},"color":{"field":"d","type":"nominal","scale":{"domain":["up","down","flat"],"range":["#FF0000","#00B050","#000000"]},"legend":null}}}
],"spacing":0,"bounds":"flush"},
{"vconcat":[
{"width":321,"height":33,"view":{"fill":"#366092","stroke":null},"data":{"name":"labels"},"transform":[{"filter":"datum.p=='R007' && datum.r==0"}],"mark":{"type":"text","color":"#FFFFFF","fontSize":21,"dy":3.5},"encoding":{"text":{"field":"t"}}},
{"width":321,"height":36,"data":{"name":"labels"},"transform":[{"filter":"datum.p=='R007' && datum.r==1"}],"mark":{"type":"text"},"encoding":{"x":{"field":"c","type":"nominal","scale":{"type":"point","padding":0.5,"domain":["L","R"]},"axis":null},"text":{"field":"t"},"color":{"field":"d","type":"nominal","scale":{"domain":["up","down","flat"],"range":["#FF0000","#00B050","#000000"]},"legend":null}}},
{"width":321,"height":60,"data":{"name":"lines"},"transform":[{"filter":"datum.s=='R007'"}],"layer":[
{"mark":{"type":"line","color":"#41608F","strokeWidth":1.1},"encoding":{"x":{"field":"i","type":"quantitative","scale":{"domain":[-0.79,29.59],"nice":false,"zero":false},"axis":null},"y":{"field":"v","type":"quantitative","scale":{"zero":false,"nice":false,"range":[59,2.5]},"axis":null}}},
{"transform":[{"joinaggregate":[{"op":"max","field":"v","as":"mx"}]},{"filter":"datum.v==datum.mx"}],"mark":{"type":"circle","color":"#D00000","size":12,"opacity":1},"encoding":{"x":{"field":"i","type":"quantitative","scale":{"domain":[-0.79,29.59],"nice":false,"zero":false},"axis":null},"y":{"field":"v","type":"quantitative","scale":{"zero":false,"nice":false,"range":[59,2.5]},"axis":null}}}]},
{"width":321,"height":68,"data":{"name":"labels"},"transform":[{"filter":"datum.p=='R007' && datum.r>=2"}],"mark":{"type":"text"},"encoding":{"x":{"field":"c","type":"nominal","scale":{"type":"point","padding":0.5,"domain":["L","R"]},"axis":null},"y":{"field":"r","type":"ordinal","scale":{"type":"point","padding":0.5625,"align":0.61},"axis":null},"text":{"field":"t"},"color":{"field":"d","type":"nominal","scale":{"domain":["up","down","flat"],"range":["#FF0000","#00B050","#000000"]},"legend":null}}}
],"spacing":0,"bounds":"flush"},
{"vconcat":[
{"width":321,"height":33,"view":{"fill":"#366092","stroke":null},"data":{"name":"labels"},"transform":[{"filter":"datum.p=='R014' && datum.r==0"}],"mark":{"type":"text","color":"#FFFFFF","fontSize":21,"dy":3.5},"encoding":{"text":{"field":"t"}}},
{"width":321,"height":36,"data":{"name":"labels"},"transform":[{"filter":"datum.p=='R014' && datum.r==1"}],"mark":{"type":"text"},"encoding":{"x":{"field":"c","type":"nominal","scale":{"type":"point","padding":0.5,"domain":["L","R"]},"axis":null},"text":{"field":"t"},"color":{"field":"d","type":"nominal","scale":{"domain":["up","down","flat"],"range":["#FF0000","#00B050","#000000"]},"legend":null}}},
{"width":321,"height":60,"data":{"name":"lines"},"transform":[{"filter":"datum.s=='R014'"}],"layer":[
{"mark":{"type":"line","color":"#41608F","strokeWidth":1.1},"encoding":{"x":{"field":"i","type":"quantitative","scale":{"domain":[-0.79,29.59],"nice":false,"zero":false},"axis":null},"y":{"field":"v","type":"quantitative","scale":{"zero":false,"nice":false,"range":[59,2.5]},"axis":null}}},
{"transform":[{"joinaggregate":[{"op":"max","field":"v","as":"mx"}]},{"filter":"datum.v==datum.mx"}],"mark":{"type":"circle","color":"#D00000","size":12,"opacity":1},"encoding":{"x":{"field":"i","type":"quantitative","scale":{"domain":[-0.79,29.59],"nice":false,"zero":false},"axis":null},"y":{"field":"v","type":"quantitative","scale":{"zero":false,"nice":false,"range":[59,2.5]},"axis":null}}}]},
{"width":321,"height":68,"data":{"name":"labels"},"transform":[{"filter":"datum.p=='R014' && datum.r>=2"}],"mark":{"type":"text"},"encoding":{"x":{"field":"c","type":"nominal","scale":{"type":"point","padding":0.5,"domain":["L","R"]},"axis":null},"y":{"field":"r","type":"ordinal","scale":{"type":"point","padding":0.5625,"align":0.61},"axis":null},"text":{"field":"t"},"color":{"field":"d","type":"nominal","scale":{"domain":["up","down","flat"],"range":["#FF0000","#00B050","#000000"]},"legend":null}}}
],"spacing":0,"bounds":"flush"}
],"spacing":1},
{"hconcat":[
{"vconcat":[
{"width":322,"height":33,"view":{"fill":"#366092","stroke":null},"data":{"name":"labels"},"transform":[{"filter":"datum.p=='GC001' && datum.r==0"}],"mark":{"type":"text","color":"#FFFFFF","fontSize":21,"dy":3.5},"encoding":{"text":{"field":"t"}}},
{"width":322,"height":36,"data":{"name":"labels"},"transform":[{"filter":"datum.p=='GC001' && datum.r==1"}],"mark":{"type":"text"},"encoding":{"x":{"field":"c","type":"nominal","scale":{"type":"point","padding":0.5,"domain":["L","R"]},"axis":null},"text":{"field":"t"},"color":{"field":"d","type":"nominal","scale":{"domain":["up","down","flat"],"range":["#FF0000","#00B050","#000000"]},"legend":null}}},
{"width":322,"height":60,"data":{"name":"lines"},"transform":[{"filter":"datum.s=='GC001'"}],"layer":[
{"mark":{"type":"line","color":"#41608F","strokeWidth":1.1},"encoding":{"x":{"field":"i","type":"quantitative","scale":{"domain":[-0.74,24.6],"nice":false,"zero":false},"axis":null},"y":{"field":"v","type":"quantitative","scale":{"zero":false,"nice":false,"range":[59,2.5]},"axis":null}}},
{"transform":[{"joinaggregate":[{"op":"max","field":"v","as":"mx"}]},{"filter":"datum.v==datum.mx"}],"mark":{"type":"circle","color":"#D00000","size":12,"opacity":1},"encoding":{"x":{"field":"i","type":"quantitative","scale":{"domain":[-0.74,24.6],"nice":false,"zero":false},"axis":null},"y":{"field":"v","type":"quantitative","scale":{"zero":false,"nice":false,"range":[59,2.5]},"axis":null}}}]},
{"width":322,"height":69,"data":{"name":"labels"},"transform":[{"filter":"datum.p=='GC001' && datum.r>=2"}],"mark":{"type":"text"},"encoding":{"x":{"field":"c","type":"nominal","scale":{"type":"point","padding":0.5,"domain":["L","R"]},"axis":null},"y":{"field":"r","type":"ordinal","scale":{"type":"point","padding":0.545,"align":0.583},"axis":null},"text":{"field":"t"},"color":{"field":"d","type":"nominal","scale":{"domain":["up","down","flat"],"range":["#FF0000","#00B050","#000000"]},"legend":null}}}
],"spacing":0,"bounds":"flush"},
{"vconcat":[
{"width":321,"height":33,"view":{"fill":"#366092","stroke":null},"data":{"name":"labels"},"transform":[{"filter":"datum.p=='GC007' && datum.r==0"}],"mark":{"type":"text","color":"#FFFFFF","fontSize":21,"dy":3.5},"encoding":{"text":{"field":"t"}}},
{"width":321,"height":36,"data":{"name":"labels"},"transform":[{"filter":"datum.p=='GC007' && datum.r==1"}],"mark":{"type":"text"},"encoding":{"x":{"field":"c","type":"nominal","scale":{"type":"point","padding":0.5,"domain":["L","R"]},"axis":null},"text":{"field":"t"},"color":{"field":"d","type":"nominal","scale":{"domain":["up","down","flat"],"range":["#FF0000","#00B050","#000000"]},"legend":null}}},
{"width":321,"height":60,"data":{"name":"lines"},"transform":[{"filter":"datum.s=='GC007'"}],"layer":[
{"mark":{"type":"line","color":"#41608F","strokeWidth":1.1},"encoding":{"x":{"field":"i","type":"quantitative","scale":{"domain":[-0.74,24.6],"nice":false,"zero":false},"axis":null},"y":{"field":"v","type":"quantitative","scale":{"zero":false,"nice":false,"range":[59,2.5]},"axis":null}}},
{"transform":[{"joinaggregate":[{"op":"max","field":"v","as":"mx"}]},{"filter":"datum.v==datum.mx"}],"mark":{"type":"circle","color":"#D00000","size":12,"opacity":1},"encoding":{"x":{"field":"i","type":"quantitative","scale":{"domain":[-0.74,24.6],"nice":false,"zero":false},"axis":null},"y":{"field":"v","type":"quantitative","scale":{"zero":false,"nice":false,"range":[59,2.5]},"axis":null}}}]},
{"width":321,"height":69,"data":{"name":"labels"},"transform":[{"filter":"datum.p=='GC007' && datum.r>=2"}],"mark":{"type":"text"},"encoding":{"x":{"field":"c","type":"nominal","scale":{"type":"point","padding":0.5,"domain":["L","R"]},"axis":null},"y":{"field":"r","type":"ordinal","scale":{"type":"point","padding":0.545,"align":0.583},"axis":null},"text":{"field":"t"},"color":{"field":"d","type":"nominal","scale":{"domain":["up","down","flat"],"range":["#FF0000","#00B050","#000000"]},"legend":null}}}
],"spacing":0,"bounds":"flush"},
{"vconcat":[
{"width":321,"height":33,"view":{"fill":"#366092","stroke":null},"data":{"name":"labels"},"transform":[{"filter":"datum.p=='GC014' && datum.r==0"}],"mark":{"type":"text","color":"#FFFFFF","fontSize":21,"dy":3.5},"encoding":{"text":{"field":"t"}}},
{"width":321,"height":36,"data":{"name":"labels"},"transform":[{"filter":"datum.p=='GC014' && datum.r==1"}],"mark":{"type":"text"},"encoding":{"x":{"field":"c","type":"nominal","scale":{"type":"point","padding":0.5,"domain":["L","R"]},"axis":null},"text":{"field":"t"},"color":{"field":"d","type":"nominal","scale":{"domain":["up","down","flat"],"range":["#FF0000","#00B050","#000000"]},"legend":null}}},
{"width":321,"height":60,"data":{"name":"lines"},"transform":[{"filter":"datum.s=='GC014'"}],"layer":[
{"mark":{"type":"line","color":"#41608F","strokeWidth":1.1},"encoding":{"x":{"field":"i","type":"quantitative","scale":{"domain":[-0.74,24.6],"nice":false,"zero":false},"axis":null},"y":{"field":"v","type":"quantitative","scale":{"zero":false,"nice":false,"range":[59,2.5]},"axis":null}}},
{"transform":[{"joinaggregate":[{"op":"max","field":"v","as":"mx"}]},{"filter":"datum.v==datum.mx"}],"mark":{"type":"circle","color":"#D00000","size":12,"opacity":1},"encoding":{"x":{"field":"i","type":"quantitative","scale":{"domain":[-0.74,24.6],"nice":false,"zero":false},"axis":null},"y":{"field":"v","type":"quantitative","scale":{"zero":false,"nice":false,"range":[59,2.5]},"axis":null}}}]},
{"width":321,"height":69,"data":{"name":"labels"},"transform":[{"filter":"datum.p=='GC014' && datum.r>=2"}],"mark":{"type":"text"},"encoding":{"x":{"field":"c","type":"nominal","scale":{"type":"point","padding":0.5,"domain":["L","R"]},"axis":null},"y":{"field":"r","type":"ordinal","scale":{"type":"point","padding":0.545,"align":0.583},"axis":null},"text":{"field":"t"},"color":{"field":"d","type":"nominal","scale":{"domain":["up","down","flat"],"range":["#FF0000","#00B050","#000000"]},"legend":null}}}
],"spacing":0,"bounds":"flush"}
],"spacing":1},
{"hconcat":[
{"vconcat":[
{"width":322,"height":33,"view":{"fill":"#366092","stroke":null},"data":{"name":"labels"},"transform":[{"filter":"datum.p=='DR成交' && datum.r==0"}],"mark":{"type":"text","color":"#FFFFFF","fontSize":22,"dy":2},"encoding":{"text":{"field":"t"}}},
{"width":322,"height":37,"data":{"name":"labels"},"transform":[{"filter":"datum.p=='DR成交' && datum.r==1"}],"mark":{"type":"text","fontSize":24,"dy":0},"encoding":{"x":{"field":"c","type":"nominal","scale":{"type":"point","padding":0.5,"domain":["L","R"]},"axis":null},"text":{"field":"t"},"color":{"field":"d","type":"nominal","scale":{"domain":["up","down","flat"],"range":["#FF0000","#00B050","#000000"]},"legend":null}}},
{"width":322,"height":60,"data":{"name":"bars"},"transform":[{"filter":"datum.s=='DR成交'"},{"joinaggregate":[{"op":"max","field":"v","as":"mx"}]}],"mark":{"type":"bar"},"encoding":{"x":{"field":"i","type":"ordinal","scale":{"paddingInner":0.22,"paddingOuter":0.45},"axis":null},"y":{"field":"v","type":"quantitative","scale":{"nice":false,"range":[58,0]},"axis":null},"color":{"condition":{"test":"datum.v==datum.mx","value":"#1F4E79"},"value":"#9DC3E6"}}}
],"spacing":0,"bounds":"flush"},
{"vconcat":[
{"width":321,"height":33,"view":{"fill":"#366092","stroke":null},"data":{"name":"labels"},"transform":[{"filter":"datum.p=='DR成交占比' && datum.r==0"}],"mark":{"type":"text","color":"#FFFFFF","fontSize":22,"dy":2},"encoding":{"text":{"field":"t"}}},
{"width":321,"height":37,"data":{"name":"labels"},"transform":[{"filter":"datum.p=='DR成交占比' && datum.r==1"}],"mark":{"type":"text","fontSize":24,"dy":0},"encoding":{"x":{"field":"c","type":"nominal","scale":{"type":"point","padding":0.5,"domain":["L","R"]},"axis":null},"text":{"field":"t"},"color":{"field":"d","type":"nominal","scale":{"domain":["up","down","flat"],"range":["#FF0000","#00B050","#000000"]},"legend":null}}},
{"width":321,"height":60,"data":{"name":"lines"},"transform":[{"filter":"datum.s=='DR成交占比'"}],"layer":[
{"mark":{"type":"line","color":"#41608F","strokeWidth":1.1},"encoding":{"x":{"field":"i","type":"quantitative","scale":{"domain":[-0.81,29.67],"nice":false,"zero":false},"axis":null},"y":{"field":"v","type":"quantitative","scale":{"zero":false,"nice":false,"range":[58,2]},"axis":null}}},
{"transform":[{"joinaggregate":[{"op":"max","field":"v","as":"mx"}]},{"filter":"datum.v==datum.mx"}],"mark":{"type":"circle","color":"#D00000","size":12,"opacity":1},"encoding":{"x":{"field":"i","type":"quantitative","scale":{"domain":[-0.81,29.67],"nice":false,"zero":false},"axis":null},"y":{"field":"v","type":"quantitative","scale":{"zero":false,"nice":false,"range":[58,2]},"axis":null}}}]}
],"spacing":0,"bounds":"flush"},
{"vconcat":[
{"width":321,"height":33,"view":{"fill":"#366092","stroke":null},"data":{"name":"labels"},"transform":[{"filter":"datum.p=='GC成交' && datum.r==0"}],"mark":{"type":"text","color":"#FFFFFF","fontSize":22,"dy":2},"encoding":{"text":{"field":"t"}}},
{"width":321,"height":37,"data":{"name":"labels"},"transform":[{"filter":"datum.p=='GC成交' && datum.r==1"}],"mark":{"type":"text","fontSize":24,"dy":0},"encoding":{"x":{"field":"c","type":"nominal","scale":{"type":"point","padding":0.5,"domain":["L","R"]},"axis":null},"text":{"field":"t"},"color":{"field":"d","type":"nominal","scale":{"domain":["up","down","flat"],"range":["#FF0000","#00B050","#000000"]},"legend":null}}},
{"width":321,"height":60,"data":{"name":"bars"},"transform":[{"filter":"datum.s=='GC成交'"},{"joinaggregate":[{"op":"max","field":"v","as":"mx"}]}],"mark":{"type":"bar"},"encoding":{"x":{"field":"i","type":"ordinal","scale":{"paddingInner":0.22,"paddingOuter":0.3},"axis":null},"y":{"field":"v","type":"quantitative","scale":{"nice":false,"range":[58,0]},"axis":null},"color":{"condition":{"test":"datum.v==datum.mx","value":"#1F4E79"},"value":"#9DC3E6"}}}
],"spacing":0,"bounds":"flush"}
],"spacing":1},
{"hconcat":[
{"vconcat":[
{"width":322,"height":33,"view":{"fill":"#366092","stroke":null},"data":{"name":"labels"},"transform":[{"filter":"datum.p=='CR成交' && datum.r==0"}],"mark":{"type":"text","color":"#FFFFFF","fontSize":22,"dy":2},"encoding":{"text":{"field":"t"}}},
{"width":322,"height":37,"data":{"name":"labels"},"transform":[{"filter":"datum.p=='CR成交' && datum.r==1"}],"mark":{"type":"text","fontSize":24,"dy":0},"encoding":{"x":{"field":"c","type":"nominal","scale":{"type":"point","padding":0.5,"domain":["L","R"]},"axis":null},"text":{"field":"t"},"color":{"field":"d","type":"nominal","scale":{"domain":["up","down","flat"],"range":["#FF0000","#00B050","#000000"]},"legend":null}}},
{"width":322,"height":61,"data":{"name":"bars"},"transform":[{"filter":"datum.s=='CR成交'"},{"joinaggregate":[{"op":"max","field":"v","as":"mx"}]}],"mark":{"type":"bar"},"encoding":{"x":{"field":"i","type":"ordinal","scale":{"paddingInner":0.22,"paddingOuter":0.45},"axis":null},"y":{"field":"v","type":"quantitative","scale":{"nice":false,"range":[58,0]},"axis":null},"color":{"condition":{"test":"datum.v==datum.mx","value":"#1F4E79"},"value":"#9DC3E6"}}}
],"spacing":0,"bounds":"flush"},
{"vconcat":[
{"width":321,"height":33,"view":{"fill":"#366092","stroke":null},"data":{"name":"labels"},"transform":[{"filter":"datum.p=='IBO成交' && datum.r==0"}],"mark":{"type":"text","color":"#FFFFFF","fontSize":22,"dy":2},"encoding":{"text":{"field":"t"}}},
{"width":321,"height":37,"data":{"name":"labels"},"transform":[{"filter":"datum.p=='IBO成交' && datum.r==1"}],"mark":{"type":"text","fontSize":24,"dy":0},"encoding":{"x":{"field":"c","type":"nominal","scale":{"type":"point","padding":0.5,"domain":["L","R"]},"axis":null},"text":{"field":"t"},"color":{"field":"d","type":"nominal","scale":{"domain":["up","down","flat"],"range":["#FF0000","#00B050","#000000"]},"legend":null}}},
{"width":321,"height":61,"data":{"name":"bars"},"transform":[{"filter":"datum.s=='IBO成交'"},{"joinaggregate":[{"op":"max","field":"v","as":"mx"}]}],"mark":{"type":"bar"},"encoding":{"x":{"field":"i","type":"ordinal","scale":{"paddingInner":0.22,"paddingOuter":0.45},"axis":null},"y":{"field":"v","type":"quantitative","scale":{"nice":false,"range":[58,0]},"axis":null},"color":{"condition":{"test":"datum.v==datum.mx","value":"#1F4E79"},"value":"#9DC3E6"}}}
],"spacing":0,"bounds":"flush"},
{"vconcat":[
{"width":321,"height":33,"view":{"fill":"#366092","stroke":null},"data":{"name":"labels"},"transform":[{"filter":"datum.p=='OR成交' && datum.r==0"}],"mark":{"type":"text","color":"#FFFFFF","fontSize":22,"dy":2},"encoding":{"text":{"field":"t"}}},
{"width":321,"height":37,"data":{"name":"labels"},"transform":[{"filter":"datum.p=='OR成交' && datum.r==1"}],"mark":{"type":"text","fontSize":24,"dy":0},"encoding":{"x":{"field":"c","type":"nominal","scale":{"type":"point","padding":0.5,"domain":["L","R"]},"axis":null},"text":{"field":"t"},"color":{"field":"d","type":"nominal","scale":{"domain":["up","down","flat"],"range":["#FF0000","#00B050","#000000"]},"legend":null}}},
{"width":321,"height":61,"data":{"name":"bars"},"transform":[{"filter":"datum.s=='OR成交'"},{"joinaggregate":[{"op":"max","field":"v","as":"mx"}]}],"mark":{"type":"bar"},"encoding":{"x":{"field":"i","type":"ordinal","scale":{"paddingInner":0.22,"paddingOuter":0.45},"axis":null},"y":{"field":"v","type":"quantitative","scale":{"nice":false,"range":[58,0]},"axis":null},"color":{"condition":{"test":"datum.v==datum.mx","value":"#1F4E79"},"value":"#9DC3E6"}}}
],"spacing":0,"bounds":"flush"}
],"spacing":1},
{"hconcat":[
{"vconcat":[
{"width":322,"height":33,"view":{"fill":"#366092","stroke":null},"data":{"name":"labels"},"transform":[{"filter":"datum.p=='R001-DR001价差' && datum.r==0"}],"mark":{"type":"text","color":"#FFFFFF","fontSize":22,"dy":2},"encoding":{"text":{"field":"t"}}},
{"width":322,"height":37,"data":{"name":"labels"},"transform":[{"filter":"datum.p=='R001-DR001价差' && datum.r==1"}],"mark":{"type":"text","fontSize":24,"dy":0},"encoding":{"x":{"field":"c","type":"nominal","scale":{"type":"point","padding":0.5,"domain":["L","R"]},"axis":null},"text":{"field":"t"},"color":{"field":"d","type":"nominal","scale":{"domain":["up","down","flat"],"range":["#FF0000","#00B050","#000000"]},"legend":null}}},
{"width":322,"height":62,"data":{"name":"bars"},"transform":[{"filter":"datum.s=='R001-DR001价差'"},{"joinaggregate":[{"op":"max","field":"v","as":"mx"}]}],"mark":{"type":"bar"},"encoding":{"x":{"field":"i","type":"ordinal","scale":{"paddingInner":0.22,"paddingOuter":0.45},"axis":null},"y":{"field":"v","type":"quantitative","scale":{"nice":false,"range":[59,0]},"axis":null},"color":{"condition":{"test":"datum.v==datum.mx","value":"#1F4E79"},"value":"#9DC3E6"}}}
],"spacing":0,"bounds":"flush"},
{"vconcat":[
{"width":321,"height":33,"view":{"fill":"#366092","stroke":null},"data":{"name":"labels"},"transform":[{"filter":"datum.p=='R007-DR007价差' && datum.r==0"}],"mark":{"type":"text","color":"#FFFFFF","fontSize":22,"dy":2},"encoding":{"text":{"field":"t"}}},
{"width":321,"height":37,"data":{"name":"labels"},"transform":[{"filter":"datum.p=='R007-DR007价差' && datum.r==1"}],"mark":{"type":"text","fontSize":24,"dy":0},"encoding":{"x":{"field":"c","type":"nominal","scale":{"type":"point","padding":0.5,"domain":["L","R"]},"axis":null},"text":{"field":"t"},"color":{"field":"d","type":"nominal","scale":{"domain":["up","down","flat"],"range":["#FF0000","#00B050","#000000"]},"legend":null}}},
{"width":321,"height":62,"data":{"name":"bars"},"transform":[{"filter":"datum.s=='R007-DR007价差'"},{"joinaggregate":[{"op":"max","field":"v","as":"mx"}]}],"mark":{"type":"bar"},"encoding":{"x":{"field":"i","type":"ordinal","scale":{"paddingInner":0.22,"paddingOuter":0.45},"axis":null},"y":{"field":"v","type":"quantitative","scale":{"nice":false,"range":[59,0]},"axis":null},"color":{"condition":{"test":"datum.v==datum.mx","value":"#1F4E79"},"value":"#9DC3E6"}}}
],"spacing":0,"bounds":"flush"},
{"vconcat":[
{"width":321,"height":33,"view":{"fill":"#366092","stroke":null},"data":{"name":"labels"},"transform":[{"filter":"datum.p=='R014-DR014价差' && datum.r==0"}],"mark":{"type":"text","color":"#FFFFFF","fontSize":22,"dy":2},"encoding":{"text":{"field":"t"}}},
{"width":321,"height":37,"data":{"name":"labels"},"transform":[{"filter":"datum.p=='R014-DR014价差' && datum.r==1"}],"mark":{"type":"text","fontSize":24,"dy":0},"encoding":{"x":{"field":"c","type":"nominal","scale":{"type":"point","padding":0.5,"domain":["L","R"]},"axis":null},"text":{"field":"t"},"color":{"field":"d","type":"nominal","scale":{"domain":["up","down","flat"],"range":["#FF0000","#00B050","#000000"]},"legend":null}}},
{"width":321,"height":62,"data":{"name":"bars"},"transform":[{"filter":"datum.s=='R014-DR014价差'"},{"joinaggregate":[{"op":"max","field":"v","as":"mx"}]}],"mark":{"type":"bar"},"encoding":{"x":{"field":"i","type":"ordinal","scale":{"paddingInner":0.22,"paddingOuter":0.45},"axis":null},"y":{"field":"v","type":"quantitative","scale":{"nice":false,"range":[59,0]},"axis":null},"color":{"condition":{"test":"datum.v==datum.mx","value":"#1F4E79"},"value":"#9DC3E6"}}}
],"spacing":0,"bounds":"flush"}
],"spacing":1}
]
}
